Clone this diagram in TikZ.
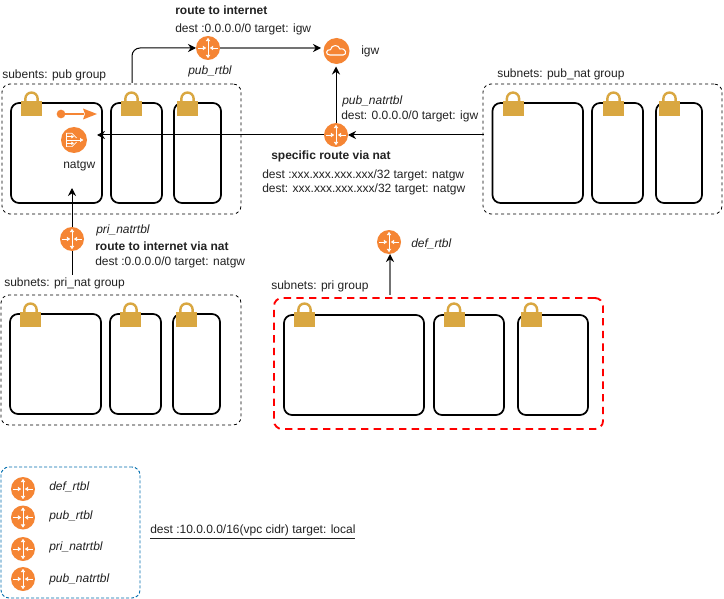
\documentclass[tikz,border=0pt]{standalone}
\usepackage{fontspec}
\setmainfont{Liberation Sans}
\usetikzlibrary{arrows.meta,calc}
\definecolor{awsorange}{HTML}{F58534}
\definecolor{lockgold}{HTML}{D9A741}
\definecolor{blueline}{HTML}{006EAF}
\definecolor{txt}{HTML}{222222}
\tikzset{
  x=0.75pt,y=-0.75pt,
  lbl/.style={inner sep=0pt,text=txt,font=\fontsize{9}{11}\selectfont,anchor=west},
  ilbl/.style={lbl,font=\fontsize{9}{11}\selectfont\itshape},
  blbl/.style={lbl,font=\fontsize{9}{11}\selectfont\bfseries},
  frame/.style={inner sep=0pt,outer sep=0pt,anchor=north west,rounded corners=6pt},
  grp/.style={frame,draw=black,dash pattern=on 2.25pt off 2.25pt,line width=0.6pt},
  sub/.style={frame,draw=black,line width=1.3pt},
  conn/.style={draw=black,line width=0.75pt,-{Stealth[length=6pt,width=6pt]}},
  grayconn/.style={draw=black!55,line width=0.9pt,-{Stealth[length=6pt,width=6pt,color=black]}},
  wht/.style={white,line width=0.6pt},
  router/.style={circle,fill=awsorange,minimum size=18pt,inner sep=0pt,outer sep=0pt,
    path picture={
      \draw[wht,{Triangle[length=2.4pt,width=3.2pt]}-{Triangle[length=2.4pt,width=3.2pt]}]
        ([yshift=7.6pt]path picture bounding box.center) -- ([yshift=-7.6pt]path picture bounding box.center);
      \draw[wht,-{Triangle[length=2.4pt,width=3.2pt]}]
        ([xshift=-7.6pt]path picture bounding box.center) -- ([xshift=-1.4pt]path picture bounding box.center);
      \draw[wht,-{Triangle[length=2.4pt,width=3.2pt]}]
        ([xshift=7.6pt]path picture bounding box.center) -- ([xshift=1.4pt]path picture bounding box.center);
    }},
}
\newcommand{\padlock}[3]{% name, center x, top y
  \node[fill=lockgold,minimum width=15.75pt,minimum height=11pt,inner sep=0pt,outer sep=0pt,anchor=south] (#1) at (#2,#3+25) {};
  \draw[lockgold,line width=1.8pt] ($(#1.north)+(-4.6pt,0)$) -- ++(0,2pt) arc[start angle=180,end angle=0,radius=4.6pt] -- ++(0,-2pt);
}
\begin{document}
\begin{tikzpicture}
\useasboundingbox (0,0) rectangle (724,599);
\fill[white] (0,0) rectangle (724,599);
% groups
\node[grp,minimum width=179.25pt,minimum height=97.5pt] (gpub) at (2,84) {};
\node[grp,minimum width=179.25pt,minimum height=97.5pt] (gpubnat) at (483,84) {};
\node[grp,minimum width=180pt,minimum height=97.5pt] (gprinat) at (1,295) {};
\node[frame,draw=red,dash pattern=on 5.5pt off 4pt,line width=1.4pt,minimum width=246.75pt,minimum height=98.25pt] (gpri) at (274,298) {};
\node[frame,draw=blueline,dash pattern=on 2.25pt off 1.5pt,line width=0.7pt,minimum width=104.25pt,minimum height=98.25pt] (glegend) at (1,467) {};
% subnets
\foreach \n/\a/\b/\t/\h in {s1/11/102/103/100,s2/111/162/103/100,s3/174/221/103/100,
  s4/492.5/583/103/100,s5/592/643/103/100,s6/656/702/103/100,
  s7/10/101/314/100,s8/110/161/314/100,s9/173/220/314/100,
  s10/284/424/315/100,s11/434/504/315/100,s12/518/588/315/100}{
  \pgfmathsetmacro{\boxw}{(\b-\a)*0.75}
  \pgfmathsetmacro{\boxh}{\h*0.75}
  \node[sub,minimum width=\boxw pt,minimum height=\boxh pt] (\n) at (\a,\t) {};
}
% locks
\padlock{l1}{31.5}{91}
\padlock{l2}{131.5}{91}
\padlock{l3}{187.5}{91}
\padlock{l4}{513}{91}
\padlock{l5}{613.5}{91}
\padlock{l6}{669.5}{91}
\padlock{l7}{30.5}{302}
\padlock{l8}{130.5}{302}
\padlock{l9}{186.5}{302}
\padlock{l10}{304.5}{302}
\padlock{l11}{454}{302}
\padlock{l12}{531}{302}
% routers
\node[router] (pubrtbl) at (208,48) {};
\node[router] (pubnat) at (336,135) {};
\node[router] (prinat) at (72,239) {};
\node[router] (defrtbl) at (389,242) {};
\node[router] (lg1) at (23,489) {};
\node[router] (lg2) at (23,517.5) {};
\node[router] (lg3) at (23,549) {};
\node[router] (lg4) at (23,579) {};
% igw
\node[circle,fill=awsorange,minimum size=19.5pt,inner sep=0pt,outer sep=0pt] (igw) at (336.5,51) {};
\draw[white,line width=0.8pt,line join=round]
  ($(igw.center)+(-5pt,-3pt)$) .. controls ($(igw.center)+(-8.5pt,-3pt)$) and ($(igw.center)+(-8pt,1.5pt)$) .. ($(igw.center)+(-4.5pt,1pt)$)
  .. controls ($(igw.center)+(-4pt,5pt)$) and ($(igw.center)+(2pt,5pt)$) .. ($(igw.center)+(2.5pt,1.5pt)$)
  .. controls ($(igw.center)+(7.5pt,2.5pt)$) and ($(igw.center)+(8pt,-3pt)$) .. ($(igw.center)+(5pt,-3pt)$) -- cycle;
% natgw
\node[circle,fill=awsorange,minimum size=19.5pt,inner sep=0pt,outer sep=0pt] (natgw) at (74,140) {};
\draw[white,line width=0.5pt] ($(natgw.center)+(-6pt,5pt)$) -- ($(natgw.center)+(-6pt,-5pt)$);
\draw[white,line width=0.5pt] ($(natgw.center)+(-6pt,5pt)$) -- ($(natgw.center)+(-1.5pt,5pt)$) -- ($(natgw.center)+(2pt,1.5pt)$);
\draw[white,line width=0.5pt] ($(natgw.center)+(-6pt,-5pt)$) -- ($(natgw.center)+(-1.5pt,-5pt)$) -- ($(natgw.center)+(2pt,-1.5pt)$);
\draw[white,line width=0.5pt,-{Triangle[length=2.5pt,width=3pt]}] ($(natgw.center)+(-6pt,0pt)$) -- ($(natgw.center)+(7pt,0pt)$);
\draw[white,line width=0.5pt,-{Triangle[length=2pt,width=2.4pt]}] ($(natgw.center)+(-6pt,2.5pt)$) -- ($(natgw.center)+(0pt,2.5pt)$);
\draw[white,line width=0.5pt,-{Triangle[length=2pt,width=2.4pt]}] ($(natgw.center)+(-6pt,-2.5pt)$) -- ($(natgw.center)+(0pt,-2.5pt)$);
% natgw route icon
\node[circle,fill=awsorange,minimum size=6.5pt,inner sep=0pt,outer sep=0pt] (natdot) at (61,114) {};
\coordinate (nattip) at (97,114);
\draw[awsorange,line width=1.6pt] (natdot) -- (84,114);
\fill[awsorange] (nattip) -- (83,108.5) -- (85,114) -- (83,119.5) -- cycle;
% connectors
\coordinate (pubtop) at (132,83);
\coordinate (natin) at (97,135);
\coordinate (natup) at (72,188);
\coordinate (igwin) at (321,48);
\coordinate (igwlow) at (336,66.5);
\coordinate (pubnatin) at (348,135);
\coordinate (pubnatw) at (484,135);
\coordinate (prinatend) at (72,275);
\coordinate (pritop) at (390,295);
\coordinate (defin) at (390,254);
\draw[conn,rounded corners=6pt] (pubtop) |- (pubrtbl);
\draw[grayconn] (pubrtbl) -- (igwin);
\draw[conn] (pubnat) -- (igwlow);
\draw[conn] (pubnatw) -- (pubnatin);
\draw[conn] (pubnat) -- (natin);
\draw[conn] (prinat) -- (natup);
\draw[draw=black,line width=0.75pt] (prinatend) -- (prinat);
\draw[grayconn] (pritop) -- (defin);
% labels
\node[blbl] (t1) at (175,10) {route to internet};
\node[lbl] (t2) at (175,29) {dest :0.0.0.0/0 target: igw};
\node[ilbl] (t3) at (188,71) {pub\_rtbl};
\node[lbl] (t4) at (361,51) {igw};
\node[lbl] (t5) at (2,75) {subents: pub group};
\node[lbl] (t6) at (497,74) {subnets: pub\_nat group};
\node[ilbl] (t7) at (342,101) {pub\_natrtbl};
\node[lbl] (t8) at (341,116) {dest: 0.0.0.0/0 target: igw};
\node[blbl] (t9) at (271,156) {specific route via nat};
\node[lbl] (t10) at (262,175) {dest :xxx.xxx.xxx.xxx/32 target: natgw};
\node[lbl] (t11) at (262,189) {dest: xxx.xxx.xxx.xxx/32 target: natgw};
\node[lbl] (t12) at (63,166) {natgw};
\node[ilbl] (t13) at (96,230) {pri\_natrtbl};
\node[blbl] (t14) at (95,246) {route to internet via nat};
\node[lbl] (t15) at (95,262) {dest :0.0.0.0/0 target: natgw};
\node[lbl] (t16) at (4,283) {subnets: pri\_nat group};
\node[lbl] (t17) at (271,286) {subnets: pri group};
\node[ilbl] (t18) at (411,244) {def\_rtbl};
\node[ilbl] (t19) at (49,487) {def\_rtbl};
\node[ilbl] (t20) at (49,516) {pub\_rtbl};
\node[ilbl] (t21) at (49,547) {pri\_natrtbl};
\node[ilbl] (t22) at (49,579) {pub\_natrtbl};
\node[lbl] (t23) at (150,532) {\underline{dest :10.0.0.0/16(vpc cidr) target: local}};
\end{tikzpicture}
\end{document}
